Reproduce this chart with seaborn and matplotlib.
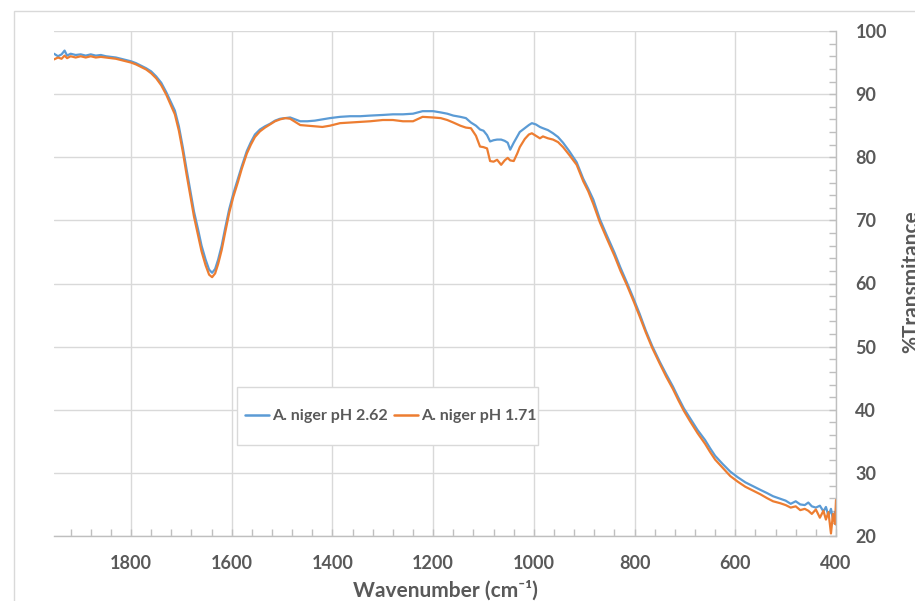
import numpy as np
import pandas as pd
import matplotlib
matplotlib.use("Agg")
import matplotlib.pyplot as plt
from matplotlib.ticker import MultipleLocator
from matplotlib.patches import Rectangle
import seaborn as sns

wavenumber = [1953, 1945, 1938, 1932, 1927, 1920, 1910, 1900, 1890, 1880, 1870, 1860, 1850, 1840,
              1830, 1820, 1810, 1800, 1790, 1780, 1770, 1760, 1750, 1740, 1730, 1720, 1713, 1705,
              1697, 1690, 1682, 1675, 1667, 1660, 1652, 1645, 1639, 1633, 1627, 1620, 1613, 1605,
              1597, 1588, 1580, 1570, 1562, 1554, 1544, 1534, 1524, 1514, 1504, 1494, 1484, 1474,
              1464, 1450, 1435, 1420, 1405, 1385, 1365, 1345, 1325, 1300, 1280, 1260, 1240, 1221,
              1200, 1185, 1172, 1160, 1146, 1135, 1125, 1115, 1107, 1100, 1093, 1087, 1080, 1073,
              1065, 1058, 1052, 1047, 1040, 1033, 1028, 1018, 1010, 1004, 996, 988, 982, 972,
              962, 952, 942, 930, 915, 902, 892, 882, 869, 855, 840, 828, 815, 802,
              790, 778, 765, 750, 737, 724, 713, 702, 690, 675, 660, 650, 640, 625,
              610, 595, 580, 565, 550, 537, 525, 511, 500, 490, 480, 471, 462, 455,
              448, 440, 432, 425, 420, 415, 410, 406, 402, 400]

t_ph262 = [96.4, 96.0, 96.3, 96.9, 96.1, 96.4, 96.2, 96.3, 96.1, 96.3, 96.1, 96.2, 96.0, 95.9,
           95.8, 95.6, 95.4, 95.2, 94.9, 94.5, 94.1, 93.6, 92.8, 91.8, 90.3, 88.6, 87.4, 84.9,
           81.5, 78.2, 74.6, 71.4, 68.6, 66.0, 63.8, 62.2, 61.7, 62.3, 63.8, 66.0, 68.8, 71.8,
           74.2, 76.5, 78.6, 81.0, 82.4, 83.6, 84.4, 84.9, 85.3, 85.8, 86.1, 86.2, 86.3, 86.0,
           85.7, 85.7, 85.8, 86.0, 86.2, 86.4, 86.5, 86.5, 86.6, 86.7, 86.8, 86.8, 86.9, 87.3,
           87.3, 87.1, 86.9, 86.6, 86.4, 86.2, 85.5, 85.0, 84.4, 84.2, 83.5, 82.5, 82.7, 82.8,
           82.8, 82.6, 82.3, 81.2, 82.3, 83.3, 84.0, 84.6, 85.1, 85.4, 85.2, 84.8, 84.6, 84.3,
           83.8, 83.2, 82.3, 81.0, 79.2, 76.6, 75.0, 73.3, 70.2, 67.6, 64.9, 62.5, 60.1, 57.6,
           55.2, 52.6, 50.1, 47.6, 45.6, 43.7, 41.9, 40.2, 38.7, 36.8, 35.2, 33.9, 32.7, 31.4,
           30.2, 29.3, 28.5, 27.9, 27.3, 26.8, 26.3, 25.9, 25.6, 25.1, 25.5, 25.0, 24.9, 25.3,
           24.7, 24.5, 24.8, 23.9, 24.6, 23.2, 24.3, 22.6, 23.8, 21.8]

t_ph171 = [95.5, 95.8, 95.6, 96.1, 95.7, 96.0, 95.8, 96.0, 95.8, 96.0, 95.8, 95.9, 95.8, 95.7,
           95.6, 95.4, 95.2, 95.0, 94.7, 94.3, 93.9, 93.3, 92.5, 91.4, 89.9, 88.1, 86.8, 84.2,
           80.8, 77.4, 73.8, 70.6, 67.7, 65.1, 62.9, 61.4, 61.0, 61.6, 63.1, 65.3, 68.1, 71.2,
           73.7, 76.0, 78.2, 80.6, 82.0, 83.2, 84.1, 84.7, 85.2, 85.7, 86.0, 86.2, 86.1, 85.6,
           85.1, 85.0, 84.9, 84.8, 85.0, 85.4, 85.5, 85.6, 85.7, 85.9, 85.9, 85.7, 85.7, 86.4,
           86.3, 86.2, 85.9, 85.5, 85.0, 84.7, 84.6, 83.4, 81.7, 81.6, 81.4, 79.4, 79.3, 79.6,
           78.8, 79.5, 79.9, 79.5, 79.4, 80.6, 81.6, 82.9, 83.6, 83.8, 83.4, 83.0, 83.3, 83.0,
           82.8, 82.4, 81.6, 80.4, 78.8, 76.2, 74.6, 72.6, 69.7, 67.1, 64.4, 62.0, 59.7, 57.2,
           54.8, 52.3, 49.8, 47.3, 45.2, 43.3, 41.5, 39.8, 38.2, 36.3, 34.6, 33.3, 32.1, 30.8,
           29.5, 28.6, 27.8, 27.2, 26.6, 26.0, 25.5, 25.2, 24.9, 24.5, 24.7, 24.1, 24.3, 24.0,
           23.5, 24.2, 22.9, 24.0, 22.6, 23.8, 20.4, 23.5, 21.9, 25.7]

series_names = ["A. niger pH 2.62", "A. niger pH 1.71"]
series_colors = ["#5B9BD5", "#ED7D31"]
x_ticks = [1800, 1600, 1400, 1200, 1000, 800, 600, 400]
y_ticks = [20, 30, 40, 50, 60, 70, 80, 90, 100]

df = pd.concat([
    pd.DataFrame({"Wavenumber": wavenumber, "T": t_ph262, "Series": series_names[0]}),
    pd.DataFrame({"Wavenumber": wavenumber, "T": t_ph171, "Series": series_names[1]}),
])

sns.set_theme(style="white")
plt.rcParams['font.family'] = ['Lato', 'DejaVu Sans']
txt = "#595959"
grid_c = "#d9d9d9"

W, H = 915, 601
fig = plt.figure(figsize=(W / 100, H / 100), dpi=100)
fig.patch.set_facecolor("white")
ax = fig.add_axes([54 / W, (H - 536) / H, (836 - 54) / W, (536 - 31) / H])

# outer chart-area border
fig.patches.append(Rectangle((14 / W, -0.1), 1.2, 1 - 11 / H + 0.1, transform=fig.transFigure,
                             fill=False, edgecolor="#d9d9d9", linewidth=1.0))

sns.lineplot(data=df, x="Wavenumber", y="T", hue="Series", palette=series_colors,
             sort=False, estimator=None, linewidth=1.6, ax=ax, legend=True)

ax.set_xlim(1953, 400)
ax.set_ylim(20, 100)
ax.set_xticks(x_ticks)
ax.set_yticks(y_ticks)
ax.xaxis.set_minor_locator(MultipleLocator(40))
ax.yaxis.set_minor_locator(MultipleLocator(2))
ax.yaxis.tick_right()
ax.grid(True, which="major", color=grid_c, linewidth=1.0)
ax.set_axisbelow(True)

for s in ["left", "top"]:
    ax.spines[s].set_visible(False)
for s in ["right", "bottom"]:
    ax.spines[s].set_visible(True)
    ax.spines[s].set_color("#bfbfbf")
    ax.spines[s].set_linewidth(1.0)

ax.tick_params(axis="x", which="both", direction="in", length=5, color="#bfbfbf", width=1,
               bottom=True, top=False, pad=14, labelsize=13, labelcolor=txt)
ax.tick_params(axis="y", which="both", direction="in", length=5, color="#bfbfbf", width=1,
               right=True, left=False, labelright=True, labelleft=False, pad=14,
               labelsize=13, labelcolor=txt)
for lab in ax.get_xticklabels() + ax.get_yticklabels():
    lab.set_fontweight("bold")

ax.set_xlabel("")
ax.set_ylabel("")
fig.text(445 / W, 1 - 590 / H, "Wavenumber (cm⁻¹)", ha="center", va="center",
         fontsize=15, fontweight="bold", color=txt)
fig.text(911 / W, 1 - 282 / H, "%Transmitance", ha="center", va="center", rotation=90,
         fontsize=15, fontweight="bold", color=txt)

# legend box (frame drawn as a separate rectangle to match the reference's padding)
ax.add_patch(Rectangle((237 / W, 1 - 445 / H), (538 - 237) / W, (445 - 387) / H,
                       transform=fig.transFigure, facecolor="white", clip_on=False,
                       edgecolor="#d9d9d9", linewidth=1.0, zorder=5))
leg = ax.legend(loc="center", bbox_to_anchor=((391 - 54) / 782, (536 - 416) / 505),
                ncol=2, frameon=False, handlelength=1.5, handletextpad=0.2,
                columnspacing=0.35, borderpad=0.2, fontsize=11.5)
leg.set_zorder(10)
for t in leg.get_texts():
    t.set_color(txt)
    t.set_fontweight("bold")
for l in leg.get_lines():
    l.set_linewidth(1.8)

fig.savefig("out.png", dpi=100, facecolor="white")
